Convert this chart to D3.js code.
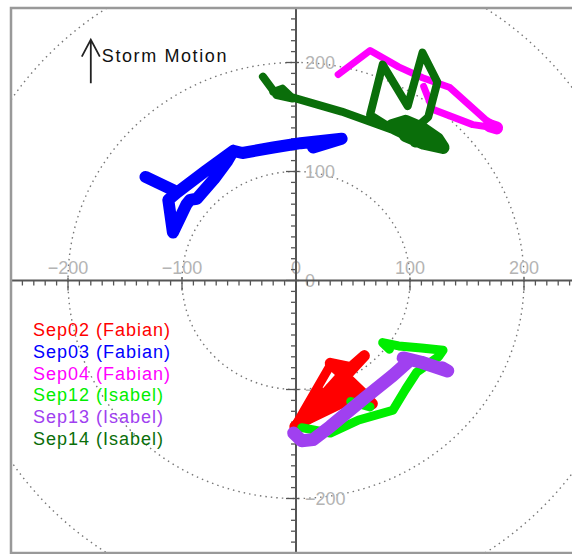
<!DOCTYPE html>
<html>
<head>
<meta charset="utf-8">
<script src="https://cdn.jsdelivr.net/npm/d3@7"></script>
<style>
  html, body { margin: 0; padding: 0; background: #fff; }
  svg { display: block; }
</style>
</head>
<body>
<svg id="chart" width="572" height="554"></svg>
<script>
// Day labels and their colours
const days = ["Sep02 (Fabian)", "Sep03 (Fabian)", "Sep04 (Fabian)",
              "Sep12 (Isabel)", "Sep13 (Isabel)", "Sep14 (Isabel)"];
const dayColors = ["#ff0000", "#0000ff", "#ff00ff", "#00ee00", "#a040f0", "#0a6e0a"];

// Storm-relative tracks, [x, y] in km; each day may have several pieces
const sep02 = [[-1,-134],[25,-107],[45,-86],[60,-69],[48,-80],[30,-76],[45,-90],[58,-103],[67,-113],
               [50,-105],[25,-118],[5,-130],[-1,-134],[20,-118],[45,-100],[58,-103],[35,-95],[10,-120]];
const sep02fan = [[-1,-134],[30,-78],[-1,-134],[40,-86],[-1,-134],[50,-96],[-1,-134],[58,-104],
                  [-1,-134],[20,-100],[-1,-134]];
const sep03 = [[15,122],[40,130],[4,126],[-20,122],[-47,117],[-55,119],[-80,100],[-104,81],[-132,95],
               [-104,81],[-112,74],[-108,44],[-96,70],[-93,74],[-87,75],[-72,93],[-60,110],[-55,119]];
const sep04 = [[37,189],[65,211],[90,196],[111,186],[135,177],[167,147],[176,141],[168,141],
               [155,143],[120,157],[112,178]];
const sep04end = [[170,142],[176,140]];
const sep12 = [[5,-135],[30,-140],[55,-128],[85,-119],[96,-100],[106,-84],[125,-70],[129,-64],
               [110,-62],[90,-60],[76,-57],[82,-63]];
const sep12b = [[48,-111],[65,-116]];
const sep13 = [[-2,-140],[5,-147],[15,-146],[30,-134],[60,-108],[85,-87],[100,-73],[94,-71],
               [110,-75],[133,-83],[128,-80]];
const sep14 = [[-29,187],[-17,170],[-3,167],[-12,176],[-20,173],[40,155],[85,138],[95,133],[110,128],
               [129,122],[115,126],[95,138],[80,142],[65,152],[76,198],[98,160],[111,209],[124,182],
               [116,150],[105,140],[90,137],[100,130],[120,125],[129,122]];
const sep14knot = [[84,142],[96,146],[110,140],[124,130],[129,122],[112,126],[96,133],[100,141],
                   [115,134],[105,128]];

// pieces per day with their stroke widths
const tracks = [
  [[sep02, 11], [sep02fan, 9]],
  [[sep03, 12]],
  [[sep04, 7], [sep04end, 13]],
  [[sep12, 9], [sep12b, 9]],
  [[sep13, 13]],
  [[sep14, 8], [sep14knot, 13]]
];

// Axis ticks and range rings
const majorTicks = [-200, -100, 0, 100, 200];
const minorTicks = d3.range(-250, 251, 10);
const rings = [100, 200, 300];

const svg = d3.select("#chart");
const x = d3.scaleLinear().domain([-250, 250]).range([11, 581]);
const y = d3.scaleLinear().domain([-250, 250]).range([553, 8]);

const grey = "#555";
const labelGrey = "#b4b4b4";

svg.append("clipPath").attr("id", "box")
  .append("rect").attr("x", x(-250)).attr("y", y(250))
  .attr("width", x(250) - x(-250)).attr("height", y(-250) - y(250));

const plot = svg.append("g").attr("clip-path", "url(#box)");

// dotted range rings
plot.selectAll("ellipse.ring").data(rings).join("ellipse")
  .attr("class", "ring")
  .attr("cx", x(0)).attr("cy", y(0))
  .attr("rx", d => x(d) - x(0)).attr("ry", d => y(0) - y(d))
  .attr("fill", "none").attr("stroke", "#777").attr("stroke-width", 1.4)
  .attr("stroke-dasharray", "1.5,4");

// axis labels
plot.selectAll("text.xl").data(majorTicks).join("text")
  .attr("class", "xl")
  .attr("x", d => x(d)).attr("y", y(0) - 7)
  .attr("text-anchor", "middle")
  .attr("font-family", "Liberation Sans, Arial, sans-serif").attr("font-size", 18)
  .attr("fill", labelGrey).text(d => d < 0 ? "\u2212" + Math.abs(d) : d);

plot.selectAll("text.yl").data(majorTicks).join("text")
  .attr("class", "yl")
  .attr("x", x(0) + 9).attr("y", d => y(d) + 6)
  .attr("text-anchor", "start")
  .attr("font-family", "Liberation Sans, Arial, sans-serif").attr("font-size", 18)
  .attr("fill", labelGrey).text(d => d < 0 ? "\u2212" + Math.abs(d) : d);

// axes through the origin
plot.append("line").attr("x1", x(-250)).attr("x2", x(250)).attr("y1", y(0)).attr("y2", y(0))
  .attr("stroke", grey).attr("stroke-width", 2);
plot.append("line").attr("x1", x(0)).attr("x2", x(0)).attr("y1", y(250)).attr("y2", y(-250))
  .attr("stroke", grey).attr("stroke-width", 2);

const isMajor = d => d % 100 === 0;
plot.selectAll("line.xt").data(minorTicks).join("line")
  .attr("class", "xt")
  .attr("x1", d => x(d)).attr("x2", d => x(d))
  .attr("y1", d => y(0) - (isMajor(d) ? 3 : 0))
  .attr("y2", d => y(0) + (isMajor(d) ? 10 : 5))
  .attr("stroke", grey).attr("stroke-width", 1.3);
plot.selectAll("line.yt").data(minorTicks).join("line")
  .attr("class", "yt")
  .attr("y1", d => y(d)).attr("y2", d => y(d))
  .attr("x1", d => x(0) + (isMajor(d) ? 3 : 0))
  .attr("x2", d => x(0) - (isMajor(d) ? 10 : 5))
  .attr("stroke", grey).attr("stroke-width", 1.3);

// tracks
const line = d3.line().x(d => x(d[0])).y(d => y(d[1]));
tracks.forEach((pieces, i) => {
  pieces.forEach(([seg, w]) => {
    plot.append("path").attr("d", line(seg))
      .attr("fill", "none").attr("stroke", dayColors[i])
      .attr("stroke-width", w)
      .attr("stroke-linecap", "round").attr("stroke-linejoin", "round");
  });
});

// storm motion arrow
const ax = x(-180), aTop = y(221), aBot = y(181);
plot.append("path")
  .attr("d", `M${ax},${aBot}V${aTop}M${ax - 9},${aTop + 17}L${ax},${aTop}L${ax + 9},${aTop + 17}`)
  .attr("fill", "none").attr("stroke", "#222").attr("stroke-width", 1.8);
plot.append("text").attr("x", ax + 11).attr("y", aTop + 22)
  .attr("font-family", "Liberation Sans, Arial, sans-serif").attr("font-size", 18)
  .attr("letter-spacing", 1.6).attr("fill", "#111").text("Storm Motion");

// legend
plot.selectAll("text.leg").data(days).join("text")
  .attr("class", "leg")
  .attr("x", 33).attr("y", (d, i) => 336 + i * 21.8)
  .attr("font-family", "Liberation Sans, Arial, sans-serif").attr("font-size", 18)
  .attr("letter-spacing", 1).attr("fill", (d, i) => dayColors[i]).text(d => d);

// frame
svg.append("rect").attr("x", x(-250)).attr("y", y(250))
  .attr("width", x(250) - x(-250)).attr("height", y(-250) - y(250))
  .attr("fill", "none").attr("stroke", "#999").attr("stroke-width", 2.5);
</script>
</body>
</html>
